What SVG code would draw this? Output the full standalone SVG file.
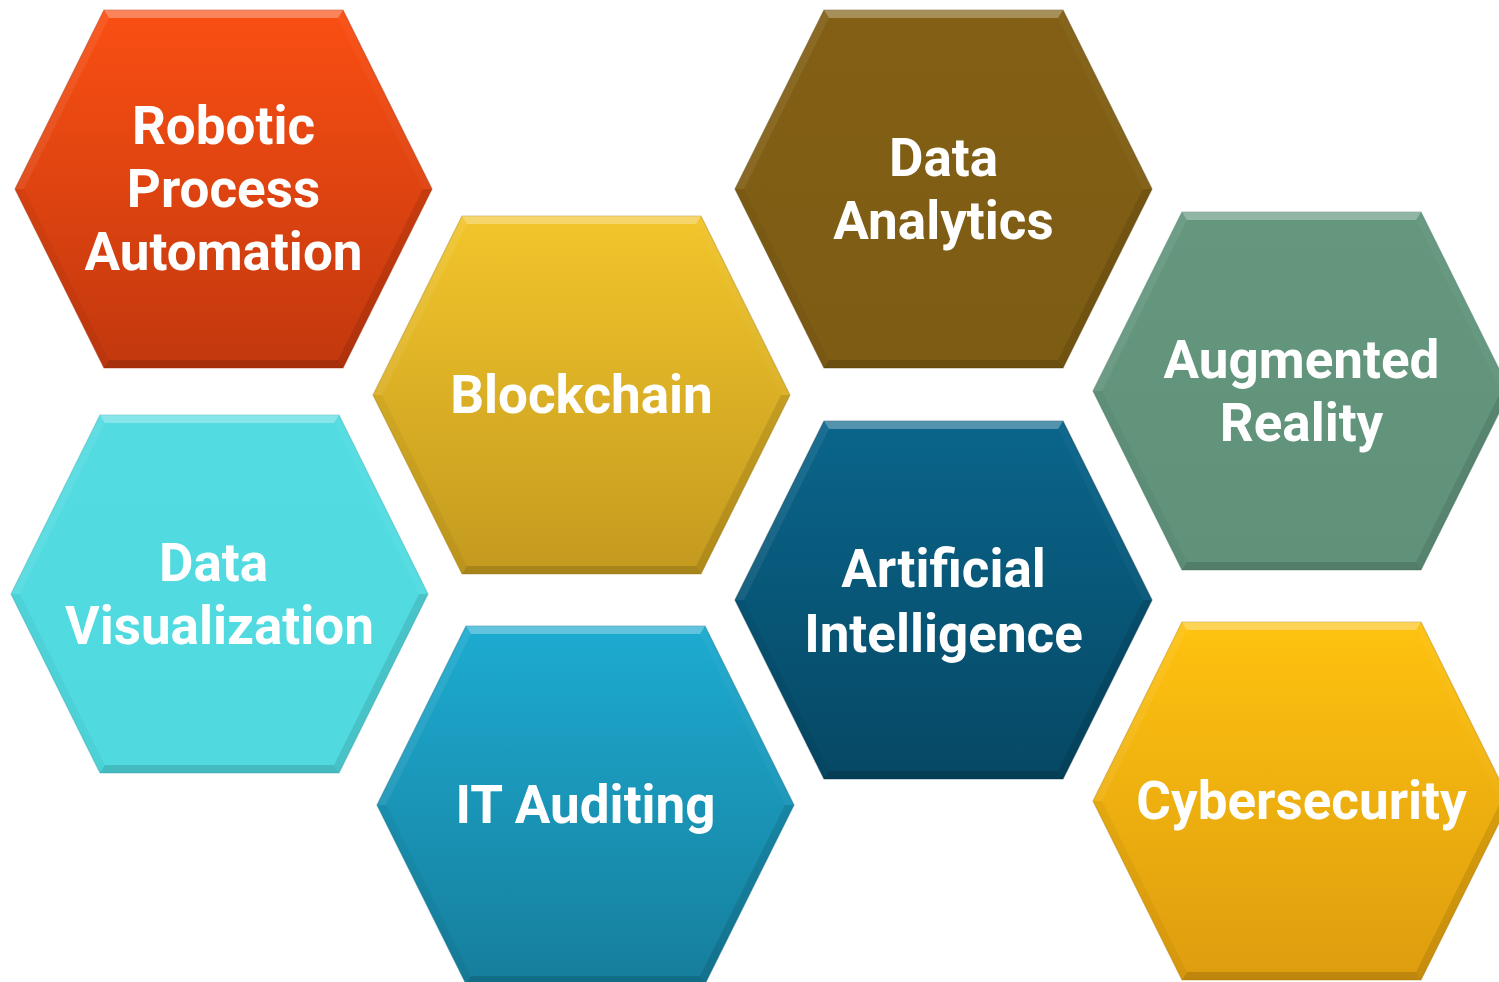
<svg xmlns="http://www.w3.org/2000/svg" width="1499" height="982" viewBox="0 0 1499 982">
  <style>
    .lbl { font-family: Roboto, "Liberation Sans", sans-serif; font-weight: 700; font-size: 53px; fill: #ffffff; text-anchor: middle; }
    .hex { stroke-width: 1.2; stroke-opacity: 0.45; }
    .bt { fill: #ffffff; fill-opacity: 0.3; }
    .bul { fill: #ffffff; fill-opacity: 0.07; }
    .bur { fill: #ffffff; fill-opacity: 0.03; }
    .blr { fill: #000000; fill-opacity: 0.1; }
    .bb { fill: #000000; fill-opacity: 0.14; }
    .bll { fill: #000000; fill-opacity: 0.04; }
  </style>
  <defs>
    <linearGradient id="gRpa" x1="0" y1="0" x2="0" y2="1"><stop offset="0" stop-color="#FA4F13"/><stop offset="1" stop-color="#C2380E"/></linearGradient>
    <linearGradient id="gBlock" x1="0" y1="0" x2="0" y2="1"><stop offset="0" stop-color="#F2C52B"/><stop offset="1" stop-color="#C39A1F"/></linearGradient>
    <linearGradient id="gDa" x1="0" y1="0" x2="0" y2="1"><stop offset="0" stop-color="#825F14"/><stop offset="1" stop-color="#7D5C14"/></linearGradient>
    <linearGradient id="gAr" x1="0" y1="0" x2="0" y2="1"><stop offset="0" stop-color="#64977E"/><stop offset="1" stop-color="#60927A"/></linearGradient>
    <linearGradient id="gDv" x1="0" y1="0" x2="0" y2="1"><stop offset="0" stop-color="#52DCE1"/><stop offset="1" stop-color="#50DADF"/></linearGradient>
    <linearGradient id="gIt" x1="0" y1="0" x2="0" y2="1"><stop offset="0" stop-color="#1DABD1"/><stop offset="1" stop-color="#167E9C"/></linearGradient>
    <linearGradient id="gAi" x1="0" y1="0" x2="0" y2="1"><stop offset="0" stop-color="#0A658B"/><stop offset="1" stop-color="#064864"/></linearGradient>
    <linearGradient id="gCy" x1="0" y1="0" x2="0" y2="1"><stop offset="0" stop-color="#FEC20F"/><stop offset="1" stop-color="#DE9D0F"/></linearGradient>
    <g id="bevel">
      <polygon class="bt" points="89,0 328,0 323,8 94,8"/>
      <polygon class="bul" points="0,179 89,0 94,8 9,179"/>
      <polygon class="bur" points="328,0 417,179 408,179 323,8"/>
      <polygon class="blr" points="417,179 328,358 323,350 408,179"/>
      <polygon class="bb" points="328,358 89,358 94,350 323,350"/>
      <polygon class="bll" points="89,358 0,179 9,179 94,350"/>
    </g>
  </defs>
  <rect width="1499" height="982" fill="#ffffff"/>

  <g id="node-rpa" transform="translate(15,10)">
    <polygon class="hex" points="89,0 328,0 417,179 328,358 89,358 0,179" fill="url(#gRpa)" stroke="#A8300B"/>
    <use href="#bevel"/>
    <text class="lbl" x="208.5" y="134">Robotic</text>
    <text class="lbl" x="208.5" y="197">Process</text>
    <text class="lbl" x="208.5" y="260">Automation</text>
  </g>

  <g id="node-blockchain" transform="translate(373,216)">
    <polygon class="hex" points="89,0 328,0 417,179 328,358 89,358 0,179" fill="url(#gBlock)" stroke="#A8841A"/>
    <use href="#bevel"/>
    <text class="lbl" x="208.5" y="197">Blockchain</text>
  </g>

  <g id="node-data-analytics" transform="translate(735,10)">
    <polygon class="hex" points="89,0 328,0 417,179 328,358 89,358 0,179" fill="url(#gDa)" stroke="#5F4610"/>
    <use href="#bevel"/>
    <text class="lbl" x="208.5" y="165.5">Data</text>
    <text class="lbl" x="208.5" y="228.5">Analytics</text>
  </g>

  <g id="node-augmented-reality" transform="translate(1093,212)">
    <polygon class="hex" points="89,0 328,0 417,179 328,358 89,358 0,179" fill="url(#gAr)" stroke="#4C7A63"/>
    <use href="#bevel"/>
    <text class="lbl" x="208.5" y="165.5">Augmented</text>
    <text class="lbl" x="208.5" y="228.5">Reality</text>
  </g>

  <g id="node-data-visualization" transform="translate(11,415)">
    <polygon class="hex" points="89,0 328,0 417,179 328,358 89,358 0,179" fill="url(#gDv)" stroke="#3AAFB4"/>
    <use href="#bevel"/>
    <text class="lbl" x="202.5" y="165.5">Data</text>
    <text class="lbl" x="208.5" y="228.5">Visualization</text>
  </g>

  <g id="node-it-auditing" transform="translate(377,626)">
    <polygon class="hex" points="89,0 328,0 417,179 328,358 89,358 0,179" fill="url(#gIt)" stroke="#136E88"/>
    <use href="#bevel"/>
    <text class="lbl" x="208.5" y="197">IT Auditing</text>
  </g>

  <g id="node-artificial-intelligence" transform="translate(735,421)">
    <polygon class="hex" points="89,0 328,0 417,179 328,358 89,358 0,179" fill="url(#gAi)" stroke="#043A52"/>
    <use href="#bevel"/>
    <text class="lbl" x="208.5" y="165.5">Artificial</text>
    <text class="lbl" x="208.5" y="230.5">Intelligence</text>
  </g>

  <g id="node-cybersecurity" transform="translate(1093,622)">
    <polygon class="hex" points="89,0 328,0 417,179 328,358 89,358 0,179" fill="url(#gCy)" stroke="#B9830C"/>
    <use href="#bevel"/>
    <text class="lbl" x="208.5" y="197">Cybersecurity</text>
  </g>

  <g id="connectors"></g>
</svg>
